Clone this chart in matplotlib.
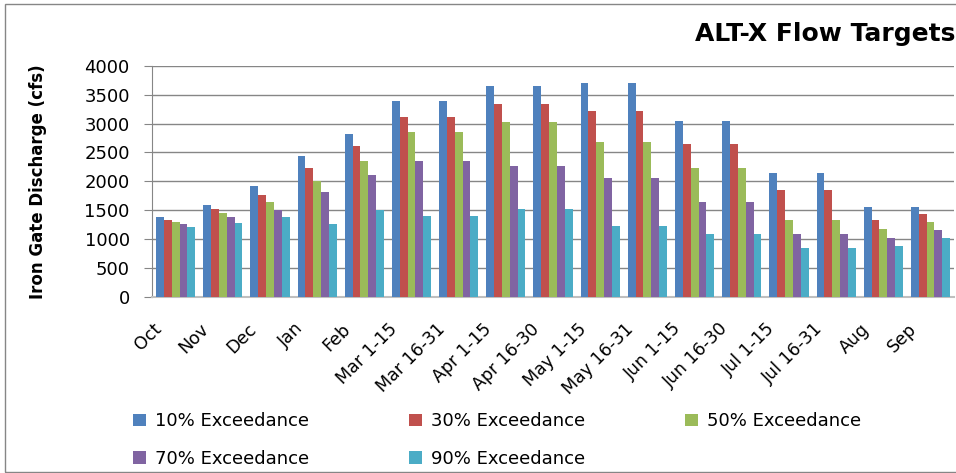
import numpy as np
import matplotlib.pyplot as plt
import matplotlib.transforms as mtransforms
from matplotlib.patches import Rectangle

plt.rcParams['font.family'] = ['DejaVu Sans']

periods = ['Oct', 'Nov', 'Dec', 'Jan', 'Feb', 'Mar 1-15', 'Mar 16-31', 'Apr 1-15',
           'Apr 16-30', 'May 1-15', 'May 16-31', 'Jun 1-15', 'Jun 16-30', 'Jul 1-15',
           'Jul 16-31', 'Aug', 'Sep']

exc_10 = [1380, 1590, 1920, 2440, 2820, 3390, 3390, 3650, 3650, 3700, 3700, 3045, 3045, 2145, 2145, 1555, 1555]
exc_30 = [1330, 1520, 1765, 2230, 2610, 3115, 3115, 3340, 3340, 3220, 3220, 2645, 2645, 1850, 1850, 1330, 1435]
exc_50 = [1295, 1450, 1640, 2005, 2355, 2855, 2855, 3030, 3030, 2680, 2680, 2230, 2230, 1330, 1330, 1175, 1295]
exc_70 = [1260, 1380, 1505, 1815, 2110, 2355, 2355, 2265, 2265, 2060, 2060, 1640, 1640, 1085, 1085, 1015, 1155]
exc_90 = [1210, 1275, 1380, 1260, 1505, 1400, 1400, 1520, 1520, 1225, 1225, 1085, 1085, 845, 845, 880, 1015]

series = [('10% Exceedance', exc_10, '#4F81BD'),
          ('30% Exceedance', exc_30, '#C0504D'),
          ('50% Exceedance', exc_50, '#9BBB59'),
          ('70% Exceedance', exc_70, '#8064A2'),
          ('90% Exceedance', exc_90, '#4BACC6')]

fig = plt.figure(figsize=(9.56, 4.73), dpi=100)
ax = fig.add_axes([0.159, 0.372, 0.839, 0.489])

x = np.arange(len(periods))
width = 0.166
handles = []
for i, (label, vals, color) in enumerate(series):
    h = ax.bar(x + (i - 2) * width, vals, width=width, color=color, label=label, zorder=3)
    handles.append(h)

ax.set_xlim(-0.5, len(periods) - 0.5)
ax.set_ylim(0, 4000)
ax.set_yticks(np.arange(0, 4001, 500))
ax.tick_params(axis='y', labelsize=13, length=6, color='#868686', pad=10)
ax.set_xticks(x)
ax.set_xticklabels(periods, rotation=45, ha='right', va='center',
                   rotation_mode='anchor', fontsize=12.5)
ax.tick_params(axis='x', length=0, pad=8)
# push the slanted labels a bit down and to the left
shift = mtransforms.ScaledTranslation(-12 / 72, -13 / 72, fig.dpi_scale_trans)
for lbl in ax.get_xticklabels():
    lbl.set_transform(lbl.get_transform() + shift)

ax.grid(axis='y', color='#868686', linewidth=1, zorder=0)
for side in ['top', 'right']:
    ax.spines[side].set_visible(False)
ax.spines['left'].set_color('#868686')
ax.spines['bottom'].set_color('#bfbfbf')
ax.spines['bottom'].set_linewidth(1.5)

ax.set_ylabel('Iron Gate Discharge (cfs)', fontsize=12, fontweight='bold')
ax.yaxis.set_label_coords(-0.131, 0.5)

fig.text(0.999, 1 - 34 / 473, 'ALT-X Flow Targets', ha='right', va='center',
         fontsize=18, fontweight='bold')

# row-major order for a 3-column legend
order = [0, 3, 1, 4, 2]
fig.legend([handles[k] for k in order], [series[k][0] for k in order],
           ncol=3, loc='upper left', bbox_to_anchor=(0.122, 0.163), frameon=False,
           fontsize=13, handlelength=0.75, handleheight=0.7, handletextpad=0.5,
           columnspacing=5.5, labelspacing=1.1)

fig.patches.append(Rectangle((0.005, 0.002), 1.2, 0.99, transform=fig.transFigure,
                             fill=False, edgecolor='#868686', linewidth=1))

fig.savefig('out.png', dpi=100)
